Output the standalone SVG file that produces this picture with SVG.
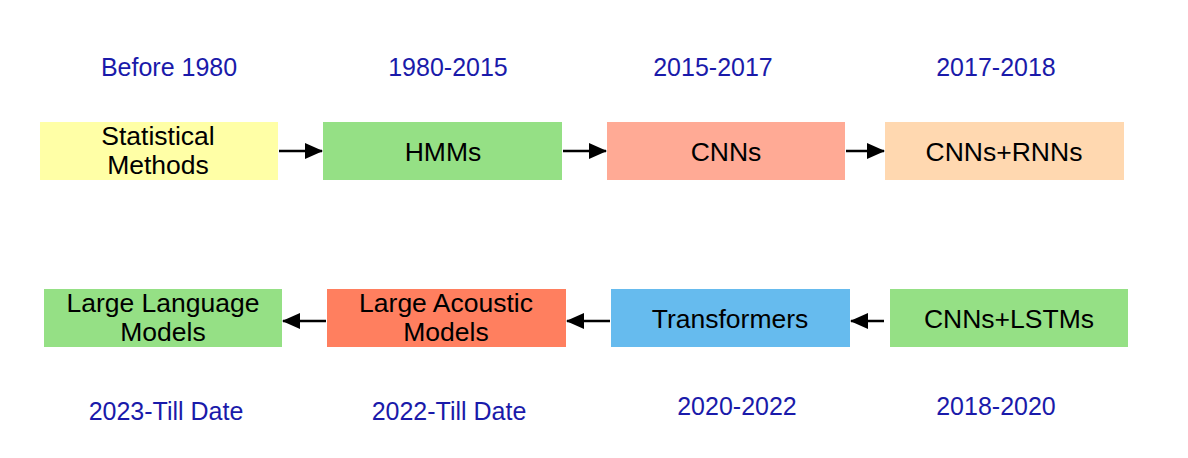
<svg xmlns="http://www.w3.org/2000/svg" width="1188" height="458" viewBox="0 0 1188 458">
<defs>
<marker id="ah" markerWidth="18" markerHeight="16" refX="17" refY="8" orient="auto" markerUnits="userSpaceOnUse">
<path d="M0,0 L18,8 L0,16 Z" fill="#000"/>
</marker>
<style>
.lbl{font-family:"Liberation Sans",Arial,sans-serif;font-size:26.5px;fill:#000;text-anchor:middle}
.yr{font-family:"Liberation Sans",Arial,sans-serif;font-size:25px;fill:#1a1aaa;text-anchor:middle}
.con{stroke:#000;stroke-width:2.5;fill:none;marker-end:url(#ah)}
</style>
</defs>
<rect width="1188" height="458" fill="#fff"/>
<g id="years">
<text class="yr" x="169" y="76">Before 1980</text>
<text class="yr" x="448" y="76">1980-2015</text>
<text class="yr" x="713" y="76">2015-2017</text>
<text class="yr" x="996" y="76">2017-2018</text>
<text class="yr" x="166" y="420">2023-Till Date</text>
<text class="yr" x="449" y="420">2022-Till Date</text>
<text class="yr" x="737" y="415">2020-2022</text>
<text class="yr" x="996" y="415">2018-2020</text>
</g>
<g id="n1"><rect x="40" y="122" width="238" height="58" fill="#ffffa6"/><text class="lbl" x="158" y="145">Statistical</text><text class="lbl" x="158" y="174">Methods</text></g>
<g id="n2"><rect x="323" y="122" width="239" height="58" fill="#95e085"/><text class="lbl" x="443" y="161">HMMs</text></g>
<g id="n3"><rect x="607" y="122" width="238" height="58" fill="#ffaa95"/><text class="lbl" x="726" y="161">CNNs</text></g>
<g id="n4"><rect x="885" y="122" width="239" height="58" fill="#ffd8b0"/><text class="lbl" x="1004" y="161">CNNs+RNNs</text></g>
<g id="n5"><rect x="890" y="289" width="238" height="58" fill="#95e085"/><text class="lbl" x="1009" y="328">CNNs+LSTMs</text></g>
<g id="n6"><rect x="611" y="289" width="239" height="58" fill="#66bbee"/><text class="lbl" x="730" y="328">Transformers</text></g>
<g id="n7"><rect x="327" y="289" width="239" height="58" fill="#ff7f5f"/><text class="lbl" x="446" y="312">Large Acoustic</text><text class="lbl" x="446" y="341">Models</text></g>
<g id="n8"><rect x="44" y="289" width="238" height="58" fill="#95e085"/><text class="lbl" x="163" y="312">Large Language</text><text class="lbl" x="163" y="341">Models</text></g>
<g id="connectors">
<line class="con" x1="279" y1="151" x2="322" y2="151"/>
<line class="con" x1="563" y1="151" x2="606" y2="151"/>
<line class="con" x1="846" y1="151" x2="884" y2="151"/>
<line class="con" x1="884" y1="321" x2="851" y2="321"/>
<line class="con" x1="610" y1="321" x2="567" y2="321"/>
<line class="con" x1="326" y1="321" x2="283" y2="321"/>
</g>
</svg>
